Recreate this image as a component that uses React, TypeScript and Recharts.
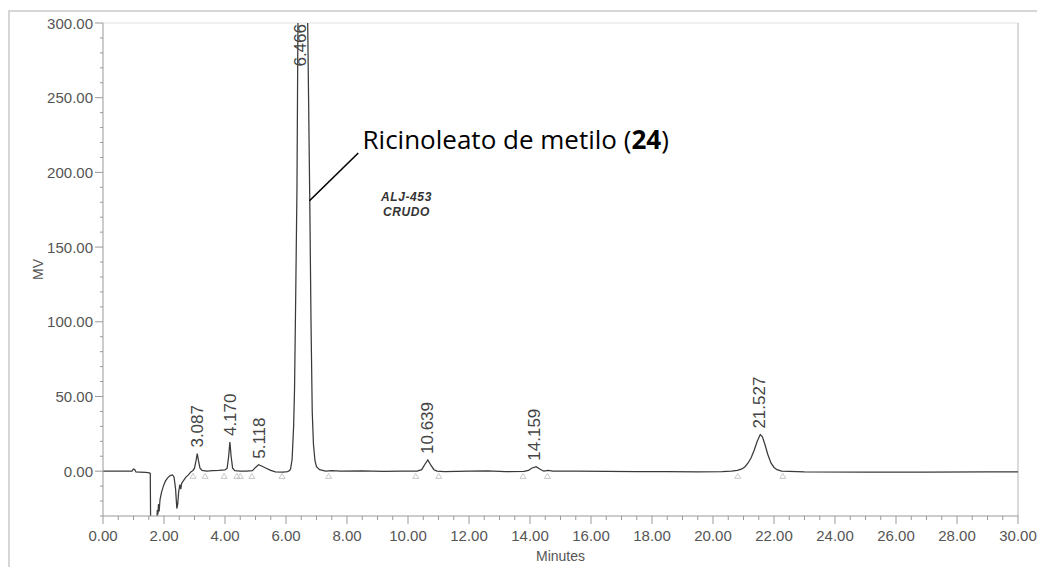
import { ComposedChart, Line, XAxis, YAxis, ReferenceDot, ReferenceLine } from 'recharts';

// chromatogram trace (minutes / mV)
const times = [
  0, 0.5, 0.95, 1.0, 1.04, 1.08, 1.2, 1.4, 1.52, 1.55, 1.57, 1.65, 1.75, 1.78, 1.8, 1.82, 1.84, 1.87,
  1.92, 1.98, 2.05, 2.12, 2.2, 2.28, 2.33, 2.38, 2.42, 2.45, 2.48, 2.52, 2.55, 2.58, 2.65, 2.72, 2.8,
  2.88, 2.95, 3.0, 3.05, 3.09, 3.13, 3.18, 3.25, 3.4, 3.6, 3.8, 4.0, 4.07, 4.12, 4.16, 4.2, 4.25, 4.32,
  4.5, 4.7, 4.9, 5.0, 5.1, 5.2, 5.35, 5.5, 5.65, 5.9, 6.05, 6.12, 6.15, 6.2, 6.25, 6.28, 6.32, 6.36,
  6.4, 6.45, 6.5, 6.55, 6.6, 6.65, 6.7, 6.74, 6.78, 6.82, 6.86, 6.9, 6.95, 7.0, 7.1, 7.3, 7.5, 7.8,
  8.5, 9.2, 9.8, 10.3, 10.45, 10.55, 10.65, 10.75, 10.85, 10.95, 11.2, 12.0, 12.6, 13.2, 13.8, 13.95,
  14.05, 14.2, 14.32, 14.45, 14.6, 14.75, 15.5, 16.5, 17.5, 18.5, 19.5, 20.3, 20.6, 20.8, 20.95, 21.05,
  21.15, 21.25, 21.35, 21.45, 21.55, 21.62, 21.7, 21.8, 21.9, 22.0, 22.1, 22.25, 23, 25, 27, 29, 30,
];
const mv = [
  0, 0, 0, 1.5, 1.2, -0.5, -0.6, -0.8, -1.2, -1.5, -60, -90, -45, -26, -29, -22, -27, -19,
  -14, -10, -6.5, -4.5, -3, -2.5, -4, -12, -25, -22, -14, -9, -12, -8, -6, -4, -2.5,
  -0.5, 0.5, 2, 7, 11.8, 7, 2, 0.5, 0, 0.3, 0.5, 0.8, 2, 10, 19.5, 10, 2, 0.3,
  0, 0, 0.3, 2.5, 4.3, 3.5, 2, 0.5, -0.5, -0.7, -0.3, 0.5, 1.5, 8, 30, 55, 120, 190,
  330, 480, 560, 560, 500, 410, 320, 250, 180, 100, 40, 18, 7, 3, 1, 0, 0.3, 0,
  0.2, -0.2, 0, 0, 1, 4.5, 7.5, 4, 1, 0, -0.3, 0, 0.2, -0.3, -0.2, 0.5,
  2, 3, 1.5, 0, 0.5, 0, 0, -0.2, -0.3, -0.3, -0.4, -0.3, 0, 0.5, 1.5, 3,
  5.5, 9, 14, 20, 24.5, 23, 18, 11, 5.5, 2.5, 1, 0, -0.5, -0.6, -0.6, -0.5, -0.5,
];
const trace = times.map((t, i) => ({ t, v: mv[i] }));

const peakLabels = ['3.087', '4.170', '5.118', '10.639', '14.159', '21.527'];
const peakTimes = [3.087, 4.17, 5.118, 10.639, 14.159, 21.527];
const peakHeights = [11.8, 19.5, 4.3, 7.5, 3.0, 24.5];
const mainPeakLabel = '6.466';

// integration start / end marks
const markerTimes = [2.95, 3.35, 3.97, 4.39, 4.5, 4.88, 5.87, 7.4, 10.25, 11.01, 13.77, 14.57, 20.81, 22.29];

const xTicks = Array.from({ length: 61 }, (_, i) => i * 0.5);
const yTicks = Array.from({ length: 34 }, (_, i) => -30 + i * 10);

const FONT = '"Liberation Sans", Arial, sans-serif';

const XTick = (props: any) => {
  const { x, y, payload } = props;
  const v = payload.value;
  const major = Math.abs(v % 2) < 1e-6;
  const top = y - 10;
  return (
    <g>
      <line x1={x} x2={x} y1={top} y2={top + (major ? 8 : 4)} stroke="#999" />
      {major && (
        <text x={x} y={y + 9} textAnchor="middle" dominantBaseline="central" fill="#555" fontSize={15} fontFamily={FONT}>
          {v.toFixed(2)}
        </text>
      )}
    </g>
  );
};

const YTick = (props: any) => {
  const { x, y, payload } = props;
  const v = payload.value;
  const major = v >= 0 && v % 50 === 0;
  const ax = x + 10;
  return (
    <g>
      <line x1={ax - (major ? 8 : 3)} x2={ax} y1={y} y2={y} stroke="#999" />
      {major && (
        <text x={x} y={y} textAnchor="end" dominantBaseline="central" fill="#555" fontSize={15} fontFamily={FONT}>
          {v.toFixed(2)}
        </text>
      )}
    </g>
  );
};

const peakText = (label: string) => (p: any) => (
  <text
    x={p.cx}
    y={p.cy - 6}
    transform={`rotate(-90 ${p.cx} ${p.cy - 6})`}
    textAnchor="start"
    dominantBaseline="central"
    fill="#444"
    fontSize={17}
    fontFamily={FONT}
  >
    {label}
  </text>
);

const triangle = (p: any) => (
  <polygon
    points={`${p.cx},${p.cy - 3} ${p.cx - 3},${p.cy + 2} ${p.cx + 3},${p.cy + 2}`}
    fill="none"
    stroke="#bbb"
    strokeWidth={0.8}
  />
);

export default function App() {
  return (
    <div
      style={{
        position: 'relative',
        top: 2,
        width: 1035,
        height: 557,
        borderTop: '2px solid #d6d6d6',
        borderLeft: '2px solid #d6d6d6',
        background: '#fff',
      }}
    >
      <ComposedChart width={1030} height={555} data={trace} margin={{ top: 11, right: 22, left: 13, bottom: 6 }}>
        <XAxis
          dataKey="t"
          type="number"
          domain={[0, 30]}
          ticks={xTicks}
          interval={0}
          tickSize={8}
          tickMargin={2}
          tickLine={false}
          tick={<XTick />}
          stroke="#999"
          height={45}
          allowDataOverflow
          label={({ viewBox }: any) => (
            <text
              x={viewBox.x + viewBox.width / 2}
              y={viewBox.y + 40}
              textAnchor="middle"
              dominantBaseline="central"
              fill="#555"
              fontSize={14}
              fontFamily={FONT}
            >
              Minutes
            </text>
          )}
        />
        <YAxis
          type="number"
          domain={[-30, 300]}
          ticks={yTicks}
          interval={0}
          tickSize={8}
          tickMargin={2}
          tickLine={false}
          tick={<YTick />}
          stroke="#999"
          width={80}
          allowDataOverflow
          label={({ viewBox }: any) => (
            <text
              x={viewBox.x + 15}
              y={viewBox.y + viewBox.height / 2}
              transform={`rotate(-90 ${viewBox.x + 15} ${viewBox.y + viewBox.height / 2})`}
              textAnchor="middle"
              dominantBaseline="central"
              fill="#555"
              fontSize={14}
              fontFamily={FONT}
            >
              MV
            </text>
          )}
        />
        <ReferenceLine y={300} stroke="#e2e2e2" />
        <ReferenceLine x={30} stroke="#b5b5b5" />
        {markerTimes.map((t) => (
          <ReferenceDot key={`m-${t}`} x={t} y={-3.5} r={3} shape={triangle} />
        ))}
        <Line
          type="linear"
          dataKey="v"
          stroke="#3a3a3a"
          strokeWidth={1.25}
          dot={false}
          activeDot={false}
          isAnimationActive={false}
        />
        {peakTimes.map((t, i) => (
          <ReferenceDot key={`p-${t}`} x={t} y={peakHeights[i]} r={1} shape={peakText(peakLabels[i])} />
        ))}
        <ReferenceDot
          x={6.466}
          y={300}
          r={1}
          shape={(p: any) => (
            <text
              x={p.cx}
              y={p.cy + 1}
              transform={`rotate(-90 ${p.cx} ${p.cy + 1})`}
              textAnchor="end"
              dominantBaseline="central"
              fill="#444"
              fontSize={17}
              fontFamily={FONT}
            >
              {mainPeakLabel}
            </text>
          )}
        />
        <ReferenceLine
          segment={[
            { x: 6.77, y: 181 },
            { x: 8.37, y: 213 },
          ]}
          stroke="#000"
          strokeWidth={1.6}
        />
        <ReferenceDot
          x={8.51}
          y={215.7}
          r={1}
          shape={(p: any) => (
            <text x={p.cx} y={p.cy} fill="#000" fontSize={26} fontFamily='"Open Sans", sans-serif'>
              Ricinoleato de metilo (<tspan fontWeight="bold">24</tspan>)
            </text>
          )}
        />
        <ReferenceDot
          x={9.95}
          y={178}
          r={1}
          shape={(p: any) => (
            <text
              x={p.cx}
              y={p.cy}
              textAnchor="middle"
              fill="#333"
              fontSize={12}
              fontWeight="bold"
              fontStyle="italic"
              fontFamily={FONT}
              letterSpacing={0.6}
            >
              <tspan x={p.cx} dy={-4}>ALJ-453</tspan>
              <tspan x={p.cx} dy={15}>CRUDO</tspan>
            </text>
          )}
        />
      </ComposedChart>
    </div>
  );
}
